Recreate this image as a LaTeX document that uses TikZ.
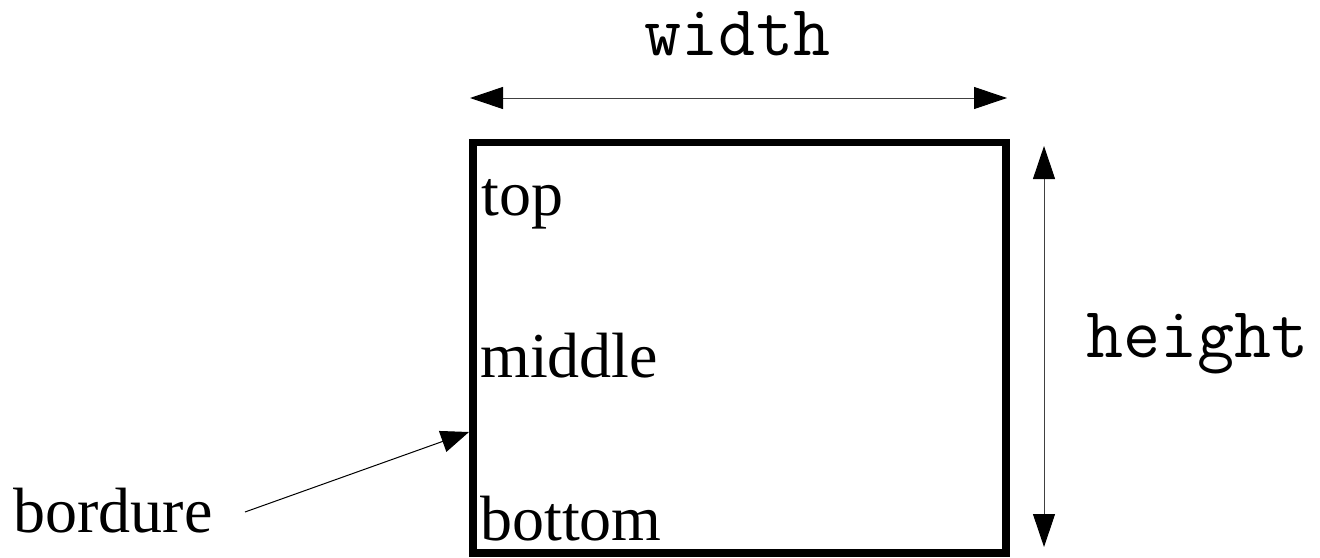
\documentclass[tikz,border=0pt]{standalone}
\usepackage{fontspec}
\setmainfont{Liberation Serif}
\usetikzlibrary{arrows.meta}
\begin{document}
\begin{tikzpicture}[x=0.5pt,y=-0.5pt,
        dimline/.style={line width=0.5pt, black!75,
            {Triangle[length=16.5pt,width=11pt,black]}-{Triangle[length=16.5pt,width=11pt,black]}},
        lbl/.style={inner sep=0pt, font=\fontsize{32}{38}\selectfont},
        codelbl/.style={inner sep=0pt, font=\fontsize{36}{42}\selectfont\ttfamily}]
        \useasboundingbox (0,0) rectangle (1320,557);

        % Define the box corners
        \coordinate (A) at (473,553);
        \coordinate (B) at (1006,553);
        \coordinate (C) at (1006,142.5);
        \coordinate (D) at (473,142.5);

        % Draw box
        \draw[line width=3.7pt] (A) -- (B) -- (C) -- (D) -- cycle;

        % Dimension arrows
        \coordinate (WL) at (470,98);
        \coordinate (WR) at (1007,98);
        \coordinate (HT) at (1044,146);
        \coordinate (HB) at (1044,547);
        \draw[dimline] (WL) -- (WR);
        \draw[dimline] (HT) -- (HB);
        \node[codelbl, anchor=base] (width) at (737.5,55) {width};
        \node[codelbl, anchor=base west] (height) at (1086,357) {height};

        % Alignment labels
        \node[lbl, anchor=base west] (top) at (481,215) {top};
        \node[lbl, anchor=base west] (middle) at (480,377) {middle};
        \node[lbl, anchor=base west] (bottom) at (480,540) {bottom};

        % Border pointer
        \node[lbl, anchor=base west] (bordure) at (13,532) {bordure};
        \coordinate (start) at (245,512);
        \coordinate (tip) at (469,432);
        \draw[line width=0.5pt, -{Triangle[length=14pt,width=11pt]}] (start) -- (tip);

\end{tikzpicture}
\end{document}
